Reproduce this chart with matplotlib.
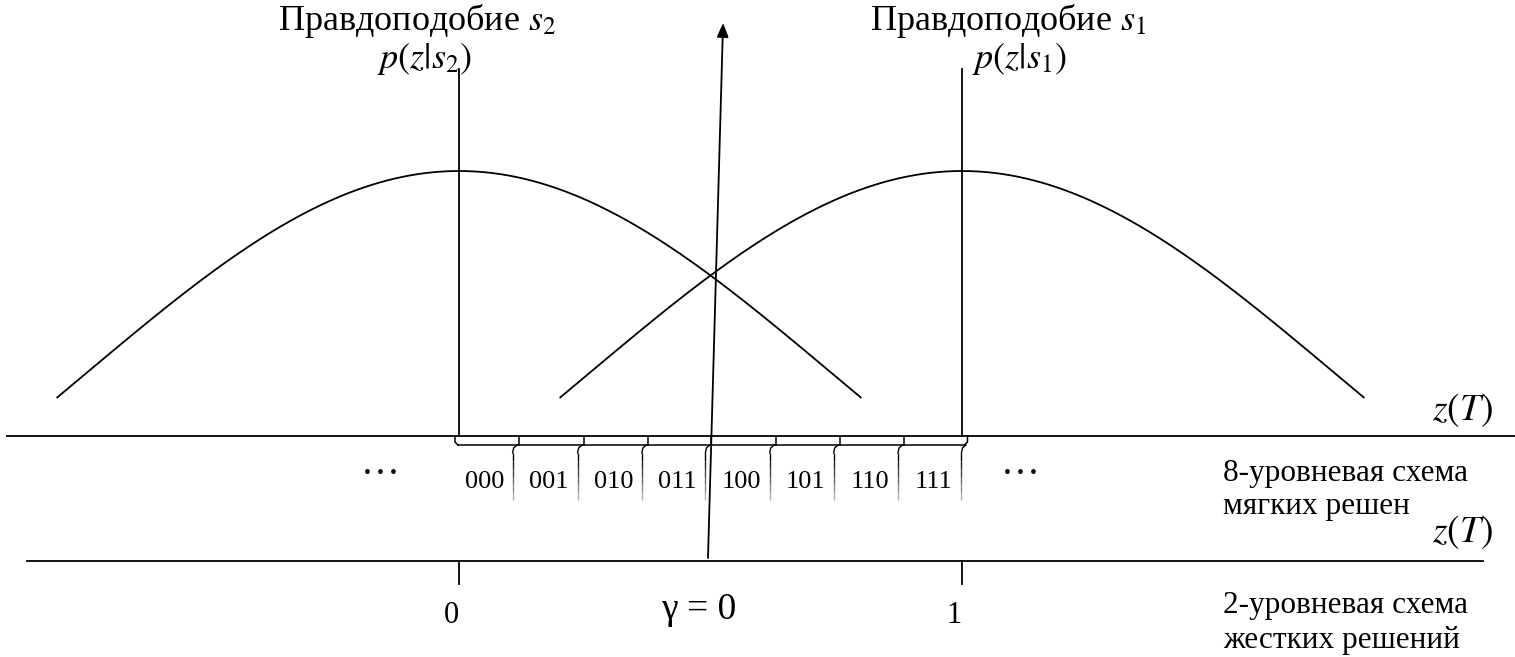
import numpy as np
import matplotlib
matplotlib.use("Agg")
import matplotlib.pyplot as plt

plt.rcParams['font.family'] = ['Liberation Serif', 'DejaVu Serif']
plt.rcParams['mathtext.fontset'] = 'stix'

# Likelihoods p(z|s_i): signal means and noise spread on the z(T) axis
signal_names = ['s_2', 's_1']
signal_means = [0.0, 1.0]
noise_sigma = 0.745
drawn_halfwidth = 0.80          # part of each bell that is drawn

# 8-level soft-decision quantizer: cell edges and codes
level_edges = [-0.008, 0.1185, 0.2477, 0.3755, 0.5018, 0.6296, 0.7567, 0.8847, 1.0109]
level_codes = ['000', '001', '010', '011', '100', '101', '110', '111']

# 2-level hard decision: threshold and output symbols
threshold = 0.5
hard_levels = [0.0, 1.0]
hard_labels = ['0', '1']

# ---------------------------------------------------------------------------
W, H = 1515, 657
Z0_PX, Z1_PX = 459, 962          # columns of z = 0 and z = 1
fig = plt.figure(figsize=(W / 100, H / 100), dpi=100)

def col(px):
    """Pixel column -> z coordinate (for placing annotations)."""
    return (px - Z0_PX) / (Z1_PX - Z0_PX)

xlim = (col(0), col(W))

# layout axes: x in z units, y in pixel rows (top = 0)
ax = fig.add_axes([0, 0, 1, 1])
ax.set_xlim(*xlim)
ax.set_ylim(H, 0)
ax.axis('off')

# likelihood axes: same x, y in density units; density 0 lies below the frame
axp = fig.add_axes([0, 0, 1, 1], sharex=ax)
axp.axis('off')
peak = 1.0 / (noise_sigma * np.sqrt(2 * np.pi))
row_zero, row_peak = 689.0, 171.0
per_row = peak / (row_zero - row_peak)
axp.set_ylim((row_zero - H) * per_row, row_zero * per_row)

LW = 1.3
INK = 'black'

for mu in signal_means:
    z = np.linspace(mu - drawn_halfwidth, mu + drawn_halfwidth, 400)
    pdf = np.exp(-0.5 * ((z - mu) / noise_sigma) ** 2) / (noise_sigma * np.sqrt(2 * np.pi))
    axp.plot(z, pdf, color=INK, lw=LW, solid_capstyle='butt')

# z(T) axes lines
AX1, AX2 = 436, 561
ax.plot([col(7), xlim[1]], [AX1, AX1], color=INK, lw=LW)
ax.plot([col(27), col(1483)], [AX2, AX2], color=INK, lw=LW)

# verticals at the signal means
for mu in signal_means:
    ax.plot([mu, mu], [69, AX1], color=INK, lw=LW)

# quantizer bracket under the upper axis
BR = 445
e = level_edges
ax.plot([e[0], e[0], e[0] + 0.006], [AX1, BR - 3, BR], color=INK, lw=1.1)
ax.plot([e[-1], e[-1], e[-1] - 0.006], [AX1, BR - 3, BR], color=INK, lw=1.1)
ax.plot([e[0] + 0.006, e[-1] - 0.006], [BR, BR], color=INK, lw=1.1)
for edge in e[1:-1]:
    ax.plot([edge, edge], [AX1, BR], color=INK, lw=1.1)
shift = col(Z0_PX + 6) - col(Z0_PX)
for edge in e[1:]:
    xd = edge - shift
    ax.plot([edge - 0.003, xd + 0.002, xd], [BR, BR + 3, BR + 8], color=INK, lw=1.0)
    rows = np.linspace(BR + 8, 500, 7)
    for k in range(6):
        ax.plot([xd, xd], [rows[k], rows[k + 1]], color=INK, lw=1.0,
                alpha=1.0 - 0.14 * k, solid_capstyle='butt')

for a, b, code in zip(e[:-1], e[1:], level_codes):
    ax.text((a + b) / 2 - 0.004, 488, code, ha='center', va='baseline', fontsize=19)

ax.text(col(380), 474, '…', ha='center', va='baseline', fontsize=28)
ax.text(col(1020), 474, '…', ha='center', va='baseline', fontsize=28)

# hard-decision ticks
for lvl, lab in zip(hard_levels, hard_labels):
    ax.plot([lvl, lvl], [AX2, 584], color=INK, lw=LW)
    ax.text(lvl - 0.016, 623, lab, ha='center', va='baseline', fontsize=22)

# decision threshold
ax.annotate('', xy=(threshold + 0.025, 23), xytext=(threshold - 0.005, 558),
            arrowprops=dict(arrowstyle='-|>,head_length=0.6,head_width=0.25',
                            mutation_scale=14, color=INK, lw=LW,
                            shrinkA=0, shrinkB=0))
ax.text(col(699), 619, 'γ = 0', ha='center', va='baseline', fontsize=27)

# likelihood titles
ax.text(col(278), 30, r'Правдоподобие $s_2$', ha='left', va='baseline', fontsize=26)
ax.text(col(377), 68, r'$p(z|s_2)$', ha='left', va='baseline', fontsize=26)
ax.text(col(870), 30, r'Правдоподобие $s_1$', ha='left', va='baseline', fontsize=26)
ax.text(col(972), 68, r'$p(z|s_1)$', ha='left', va='baseline', fontsize=26)

# axis names and scheme captions
ax.text(col(1493), 420, r'$z(T)$', ha='right', va='baseline', fontsize=27)
ax.text(col(1493), 542, r'$z(T)$', ha='right', va='baseline', fontsize=27)
ax.text(col(1223), 481, '8-уровневая схема', ha='left', va='baseline', fontsize=22.5)
ax.text(col(1223), 514, 'мягких решен', ha='left', va='baseline', fontsize=22.5)
ax.text(col(1223), 613, '2-уровневая схема', ha='left', va='baseline', fontsize=22.5)
ax.text(col(1223), 648, 'жестких решений', ha='left', va='baseline', fontsize=22.5)

fig.savefig('out.png', dpi=100, facecolor='white')
